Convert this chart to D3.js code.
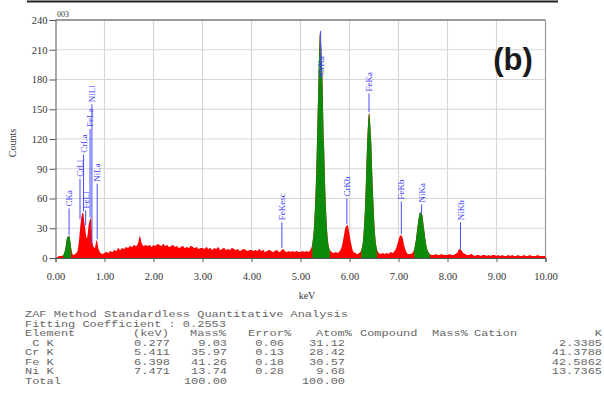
<!DOCTYPE html>
<html>
<head>
<meta charset="utf-8">
<script src="https://cdn.jsdelivr.net/npm/d3@7/dist/d3.min.js"></script>
<style>
  body { margin: 0; background: #fff; }
  svg { display: block; }
</style>
</head>
<body>
<svg></svg>
<script>
// spectrum channels, one value every 0.04 keV from 0 to 10 keV
const keVStep = 0.04;
const counts = [
    0, 1, 2, 2, 3, 9, 21, 22, 10, 3, 4, 6, 18, 38, 46, 32, 20, 34, 40, 14, 10, 18, 9, 5, 4,
    5, 6, 5, 7, 6, 8, 7, 10, 8, 10, 9, 11, 10, 12, 11, 13, 12, 14, 22, 15, 12, 13, 12, 13, 11,
    13, 12, 14, 13, 12, 14, 12, 13, 11, 12, 13, 11, 12, 10, 11, 12, 10, 11, 10, 12, 11, 10, 11, 9, 10,
    10, 9, 11, 9, 10, 8, 10, 9, 11, 8, 9, 10, 8, 9, 8, 10, 9, 8, 9, 7, 8, 9, 8, 7, 8,
    8, 7, 8, 7, 9, 7, 8, 6, 7, 8, 7, 6, 7, 8, 6, 7, 9, 7, 6, 7, 6, 7, 6, 7, 6,
    6, 7, 6, 7, 6, 8, 14, 35, 85, 165, 228, 195, 115, 50, 18, 8, 6, 5, 6, 5, 7, 11, 21, 31, 33,
    24, 13, 6, 5, 4, 5, 8, 20, 55, 115, 146, 120, 65, 25, 9, 5, 4, 5, 4, 5, 4, 6, 5, 7, 11,
    18, 23, 21, 12, 6, 4, 4, 5, 9, 20, 36, 46, 44, 30, 15, 7, 4, 3, 3, 4, 3, 3, 4, 3, 3,
    3, 4, 3, 3, 4, 5, 9, 8, 5, 4, 3, 3, 4, 3, 2, 3, 3, 2, 3, 3, 2, 3, 2, 3, 3,
    2, 3, 2, 3, 2, 2, 3, 2, 3, 2, 2, 3, 2, 2, 3, 2, 2, 3, 2, 2, 2, 3, 2, 2, 2, 2
];
// identified peak windows (drawn green)
const peakWindows = [[0.16, 0.34], [5.22, 5.60], [6.22, 6.58], [7.30, 7.64]];

// line markers: name, energy, level of label (counts)
const markerNames = ['CKa', 'CrLl', 'FeLl', 'CrLa', 'FeLa', 'NiLl', 'NiLa', 'FeKesc', 'CrKa', 'CrKb', 'FeKa', 'FeKb', 'NiKa', 'NiKb'];
const markerKeV = [0.277, 0.500, 0.615, 0.573, 0.705, 0.743, 0.851, 4.62, 5.411, 5.946, 6.398, 7.058, 7.471, 8.265];
const markerLevel = [50, 80, 48, 104, 130, 155, 75, 36, 182, 60, 166, 57, 54, 36];

const xTicks = [0, 1, 2, 3, 4, 5, 6, 7, 8, 9, 10];
const yTicks = [0, 30, 60, 90, 120, 150, 180, 210, 240];

// quantitative table
const tableTitle = ['ZAF Method Standardless Quantitative Analysis', 'Fitting Coefficient : 0.2553'];
const tableHeader = ['Element', '(keV)', 'Mass%', 'Error%', 'Atom%', 'Compound', 'Mass%', 'Cation', 'K'];
const elements = [' C K', 'Cr K', 'Fe K', 'Ni K'];
const lineKeV = ['0.277', '5.411', '6.398', '7.471'];
const massPct = ['9.03', '35.97', '41.26', '13.74'];
const errorPct = ['0.06', '0.13', '0.18', '0.28'];
const atomPct = ['31.12', '28.42', '30.57', '9.68'];
const kRatio = ['2.3385', '41.3788', '42.5862', '13.7365'];
const totals = ['100.00', '100.00'];

const svg = d3.select('svg').attr('width', 604).attr('height', 399);

const x = d3.scaleLinear().domain([0, 10]).range([55.5, 545.5]);
const y = d3.scaleLinear().domain([0, 240]).range([258, 20]);

const spectrum = counts.map((c, i) => ({ e: i * keVStep, c }));

// top rule of the page
svg.append('line')
    .attr('x1', 27).attr('x2', 558).attr('y1', 1.5).attr('y2', 1.5)
    .attr('stroke', '#222').attr('stroke-width', 2);

// grid
const grid = svg.append('g');
grid.selectAll('.vg')
    .data(xTicks.slice(1, -1))
    .enter().append('line')
    .attr('x1', d => x(d)).attr('x2', d => x(d))
    .attr('y1', y(240)).attr('y2', y(0))
    .attr('stroke', '#d6d6d6').attr('stroke-width', 1.2);
grid.selectAll('.hg')
    .data(yTicks.slice(1, -1))
    .enter().append('line')
    .attr('x1', x(0)).attr('x2', x(10))
    .attr('y1', d => y(d)).attr('y2', d => y(d))
    .attr('stroke', '#d6d6d6').attr('stroke-width', 1.2);

// frame top and right
svg.append('line')
    .attr('x1', x(0)).attr('x2', x(10)).attr('y1', y(240)).attr('y2', y(240))
    .attr('stroke', '#7a7a7a').attr('stroke-width', 1.5);
svg.append('line')
    .attr('x1', x(10)).attr('x2', x(10)).attr('y1', y(240)).attr('y2', y(0))
    .attr('stroke', '#9a9a9a').attr('stroke-width', 1.2);

// spectrum
const area = d3.area()
    .x(d => x(d.e))
    .y0(y(0))
    .y1(d => y(d.c))
    .curve(d3.curveMonotoneX);

svg.append('line')
    .attr('x1', x(0)).attr('x2', x(10)).attr('y1', y(0) + 0.5).attr('y2', y(0) + 0.5)
    .attr('stroke', '#f2b233').attr('stroke-width', 1.2);

svg.append('path')
    .datum(spectrum)
    .attr('fill', '#ff0000')
    .attr('d', area);

svg.selectAll('.peak')
    .data(peakWindows)
    .enter().append('path')
    .attr('fill', '#0b8a0b')
    .attr('d', w => area(spectrum.filter(p => p.e >= w[0] - 1e-9 && p.e <= w[1] + 1e-9)));

// axes
const yAxis = svg.append('g')
    .attr('transform', `translate(${x(0)},0)`)
    .call(d3.axisLeft(y).tickValues(yTicks).tickSize(6).tickPadding(2));
const xAxis = svg.append('g')
    .attr('transform', `translate(0,${y(0)})`)
    .call(d3.axisBottom(x).tickValues(xTicks).tickFormat(d3.format('.2f')).tickSize(4).tickPadding(11));

[xAxis, yAxis].forEach(a => {
    a.select('.domain').attr('stroke', '#555');
    a.selectAll('.tick line').attr('stroke', '#555');
    a.selectAll('text')
        .attr('font-family', '"Liberation Serif", serif')
        .attr('font-size', 10.5)
        .attr('fill', '#333');
});

svg.append('text')
    .attr('transform', `translate(16,143) rotate(-90)`)
    .attr('text-anchor', 'middle')
    .attr('font-family', '"Liberation Serif", serif')
    .attr('font-size', 10)
    .attr('fill', '#333')
    .text('Counts');

svg.append('text')
    .attr('x', 307).attr('y', 299)
    .attr('text-anchor', 'middle')
    .attr('font-family', '"Liberation Serif", serif')
    .attr('font-size', 10)
    .attr('fill', '#333')
    .text('keV');

svg.append('text')
    .attr('x', 57).attr('y', 17)
    .attr('font-family', '"Liberation Serif", serif')
    .attr('font-size', 8)
    .attr('fill', '#333')
    .text('003');

// line markers
const channelAt = e => counts[Math.round(e / keVStep)];
const markers = svg.append('g');
markerNames.forEach((name, i) => {
    const px = x(markerKeV[i]);
    markers.append('line')
        .attr('x1', px).attr('x2', px)
        .attr('y1', y(channelAt(markerKeV[i])) - 1)
        .attr('y2', y(markerLevel[i]))
        .attr('stroke', '#4a4aff').attr('stroke-width', 1);
    markers.append('text')
        .attr('transform', `translate(${px},${y(markerLevel[i]) - 2}) rotate(-90)`)
        .attr('dy', '0.35em')
        .attr('font-family', '"Liberation Serif", serif')
        .attr('font-size', 9)
        .attr('fill', '#3c3cff')
        .text(name);
});

// panel letter
svg.append('text')
    .attr('x', 513).attr('y', 70)
    .attr('text-anchor', 'middle')
    .attr('font-family', '"Liberation Sans", Arial, sans-serif')
    .attr('font-weight', 'bold')
    .attr('font-size', 31)
    .attr('fill', '#1a1a1a')
    .text('(b)');

// table
const table = svg.append('g')
    .attr('font-family', '"Liberation Mono", monospace')
    .attr('font-size', 9)
    .attr('fill', '#666');
const rowY = i => 317 + i * 9.5;
function mono(str, px, py, anchor) {
    table.append('text')
        .attr('transform', `translate(${px},${py}) scale(1.33,1)`)
        .attr('text-anchor', anchor || 'start')
        .style('white-space', 'pre')
        .text(str);
}
tableTitle.forEach((t, i) => mono(t, 25, rowY(i)));
const headerX = [25, 133, 190, 248, 316, 360, 432, 474];
tableHeader.slice(0, -1).forEach((h, i) => mono(h, headerX[i], rowY(2)));
mono(tableHeader[tableHeader.length - 1], 602, rowY(2), 'end');
elements.forEach((el, i) => {
    const ry = rowY(3 + i);
    mono(el, 25, ry);
    mono(lineKeV[i], 170, ry, 'end');
    mono(massPct[i], 227, ry, 'end');
    mono(errorPct[i], 284, ry, 'end');
    mono(atomPct[i], 345, ry, 'end');
    mono(kRatio[i], 602, ry, 'end');
});
mono('Total', 25, rowY(7));
mono(totals[0], 227, rowY(7), 'end');
mono(totals[1], 345, rowY(7), 'end');
</script>
</body>
</html>
